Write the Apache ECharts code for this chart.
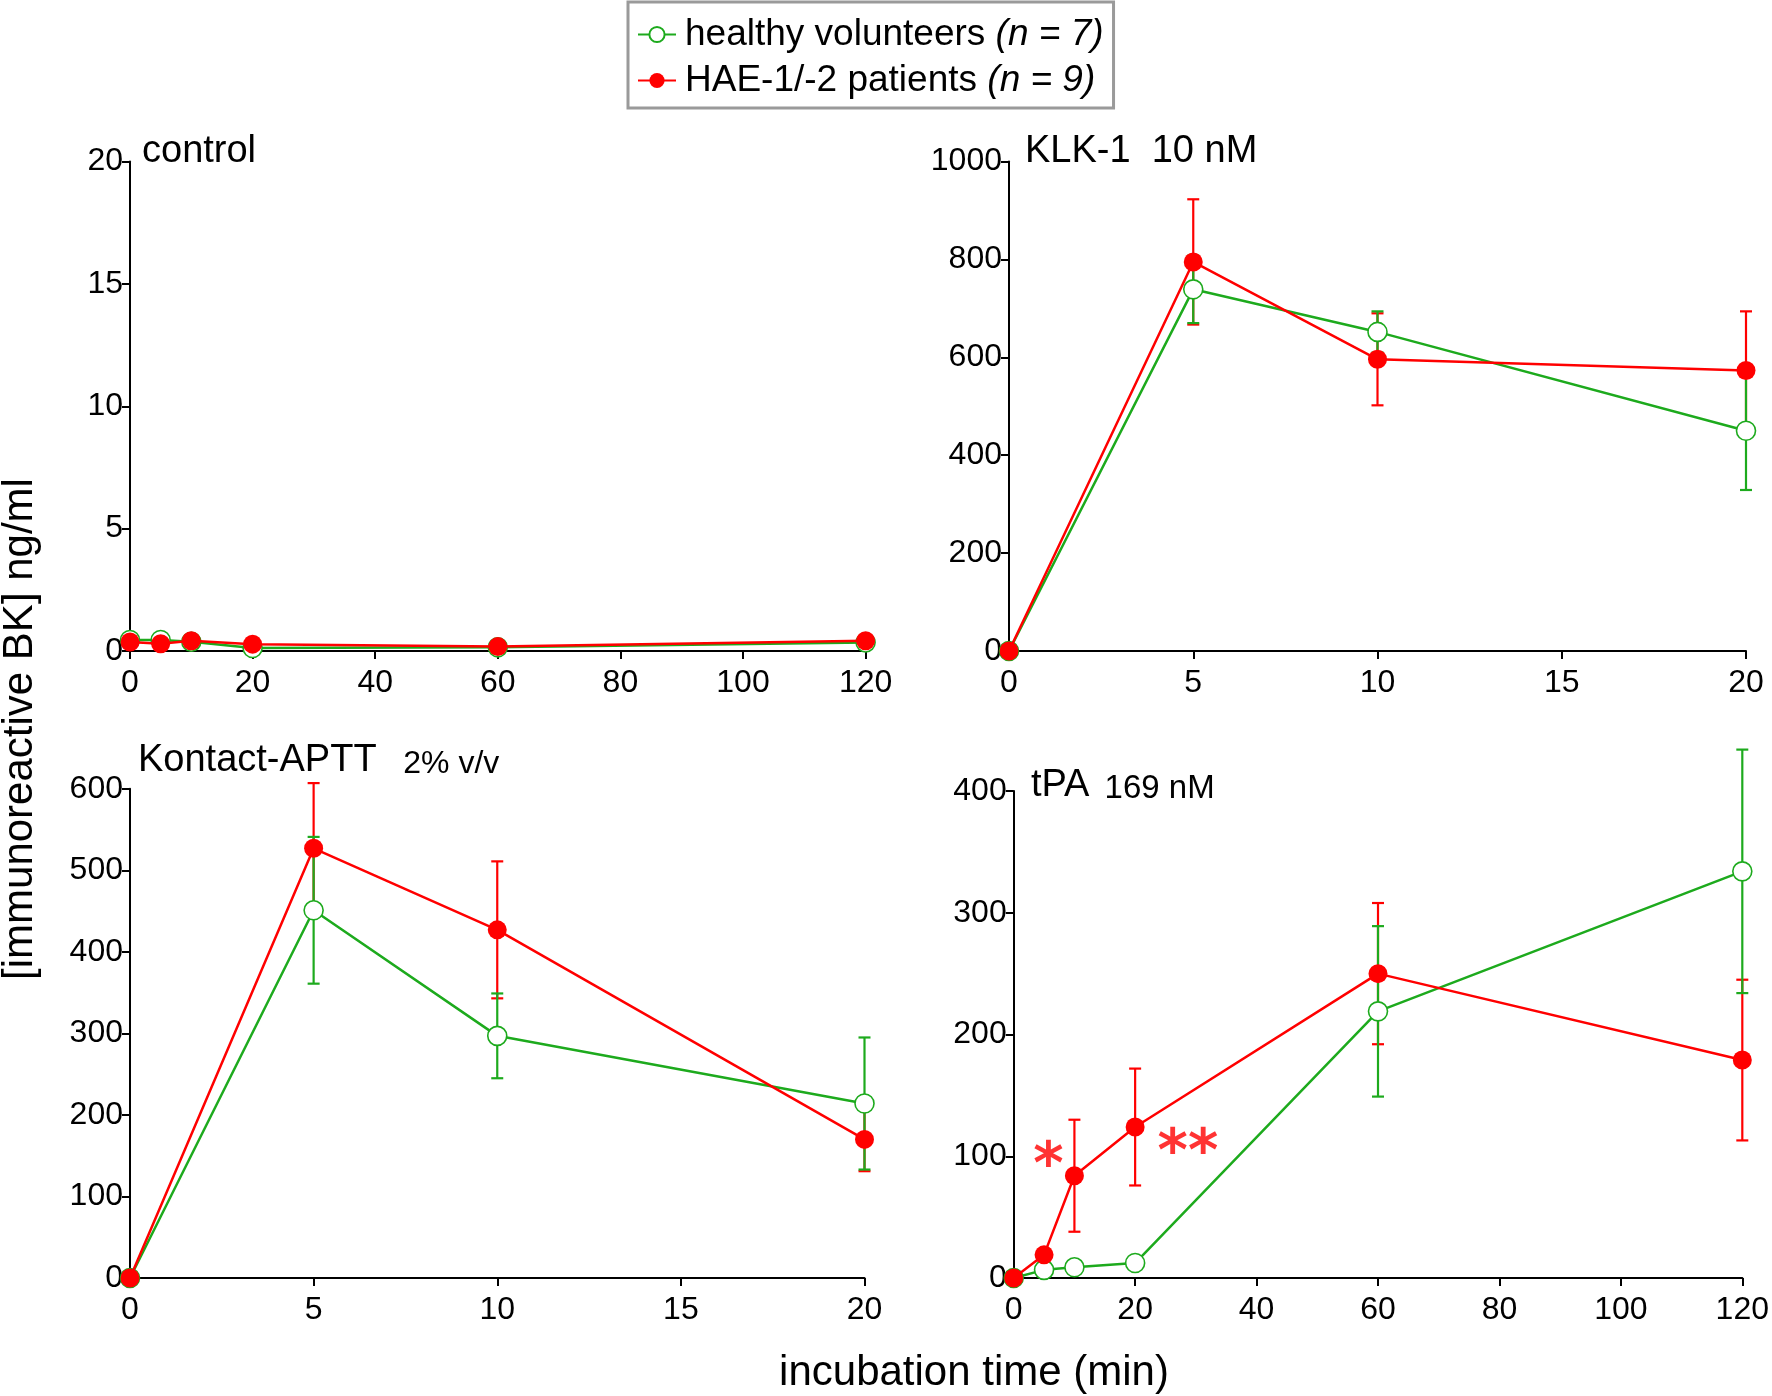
<!DOCTYPE html>
<html>
<head>
<meta charset="utf-8">
<script src="https://cdn.jsdelivr.net/npm/echarts@6/dist/echarts.min.js"></script>
<style>
html,body{margin:0;padding:0;background:#fff;}
#chart{width:1772px;height:1396px;}
</style>
</head>
<body>
<div id="chart"></div>
<script>
// ---------- data ----------
const seriesNames = ['healthy volunteers', 'HAE-1/-2 patients'];
const legendN = ['(n = 7)', '(n = 9)'];
const panelTitles = ['control', 'KLK-1  10 nM', 'Kontact-APTT', 'tPA'];
const panelSubtitles = ['', '', '2% v/v', '169 nM'];
const xAxisTitle = 'incubation time (min)';
const yAxisTitle = '[immunoreactive BK] ng/ml';

// control
const ctrlX = [0, 5, 10, 20, 60, 120];
const ctrlHealthy = [0.45, 0.45, 0.38, 0.12, 0.15, 0.35];
const ctrlHAE = [0.37, 0.30, 0.42, 0.28, 0.18, 0.42];

// KLK-1
const klkX = [0, 5, 10, 20];
const klkHealthy = [0, 739, 652, 450];
const klkHealthyErr = [0, 69, 42, 121];
const klkHAE = [0, 795, 596, 573];
const klkHAEErr = [0, 128, 94, 121];

// Kontact-APTT
const aptX = [0, 5, 10, 20];
const aptHealthy = [0, 451, 297, 214];
const aptHealthyErr = [0, 90, 52, 81];
const aptHAE = [0, 527, 427, 170];
const aptHAEErr = [0, 80, 84, 39];

// tPA
const tpaX = [0, 5, 10, 20, 60, 120];
const tpaHealthy = [0, 6.7, 8.8, 12.3, 219, 334];
const tpaHealthyErr = [0, 0, 0, 0, 70, 100];
const tpaHAE = [0, 19, 84, 124, 250, 179];
const tpaHAEErr = [0, 0, 46, 48, 58, 66];

// significance marks (tPA panel)
const sigMarks = [[5.7, 101, '*'], [26.2, 112, '*'], [31.2, 112, '*']];

// axis scales
const axisX = [{max: 120, interval: 20}, {max: 20, interval: 5}, {max: 20, interval: 5}, {max: 120, interval: 20}];
const axisY = [{max: 20, interval: 5}, {max: 1000, interval: 200}, {max: 600, interval: 100}, {max: 400, interval: 100}];

// ---------- styles ----------
const GREEN = '#1daa1d';
const RED = '#ff0000';
const FONT = '"Liberation Sans", Arial, sans-serif';

const grids = [
  {left: 130, top: 161.6, width: 735.6, height: 489.4},
  {left: 1009, top: 161.6, width: 737, height: 489.4},
  {left: 130, top: 788.8, width: 734.5, height: 489.2},
  {left: 1013.7, top: 791, width: 732.3, height: 487}
];

function axisCommon(isX) {
  return {
    type: 'value', min: 0,
    axisLine: {show: true, onZero: false, lineStyle: {color: '#000', width: 2}},
    axisTick: {show: true, inside: false, length: 8, lineStyle: {color: '#000', width: 2}},
    axisLabel: {color: '#000', fontSize: 32, fontFamily: FONT, margin: isX ? 16 : 7,
                formatter: v => String(v)},
    splitLine: {show: false}
  };
}

const xAxes = axisX.map((a, i) => Object.assign(axisCommon(true), {gridIndex: i, max: a.max, interval: a.interval}));
const yAxes = axisY.map((a, i) => Object.assign(axisCommon(false), {gridIndex: i, max: a.max, interval: a.interval}));

function pts(xs, ys) { return xs.map((x, i) => [x, ys[i]]); }
function errPts(xs, ys, es) {
  const out = [];
  xs.forEach((x, i) => { if (es[i] > 0) out.push([x, ys[i] - es[i], ys[i] + es[i]]); });
  return out;
}

function errSeries(gi, data, color, z) {
  return {
    type: 'custom', xAxisIndex: gi, yAxisIndex: gi, z: z, clip: false, silent: true,
    data: data,
    encode: {x: 0, y: [1, 2]},
    renderItem: function (params, api) {
      const x = api.value(0);
      const lo = api.coord([x, api.value(1)]);
      const hi = api.coord([x, api.value(2)]);
      const w = 6;
      const st = {stroke: color, lineWidth: 2.2};
      return {
        type: 'group',
        children: [
          {type: 'line', shape: {x1: lo[0], y1: lo[1], x2: hi[0], y2: hi[1]}, style: st},
          {type: 'line', shape: {x1: hi[0] - w, y1: hi[1], x2: hi[0] + w, y2: hi[1]}, style: st},
          {type: 'line', shape: {x1: lo[0] - w, y1: lo[1], x2: lo[0] + w, y2: lo[1]}, style: st}
        ]
      };
    }
  };
}

function healthyLine(gi, data) {
  return {
    name: seriesNames[0], type: 'line', xAxisIndex: gi, yAxisIndex: gi, z: 4,
    data: data, symbol: 'circle', symbolSize: 19, clip: false,
    lineStyle: {color: GREEN, width: 2.5},
    itemStyle: {color: '#ffffff', borderColor: GREEN, borderWidth: 1.6},
    emphasis: {disabled: true}, animation: false
  };
}
function haeLine(gi, data) {
  return {
    name: seriesNames[1], type: 'line', xAxisIndex: gi, yAxisIndex: gi, z: 5,
    data: data, symbol: 'circle', symbolSize: 19, clip: false,
    lineStyle: {color: RED, width: 2.5},
    itemStyle: {color: RED, borderColor: RED, borderWidth: 0},
    emphasis: {disabled: true}, animation: false
  };
}

const series = [
  // control
  healthyLine(0, pts(ctrlX, ctrlHealthy)),
  haeLine(0, pts(ctrlX, ctrlHAE)),
  // KLK-1
  errSeries(1, errPts(klkX, klkHAE, klkHAEErr), RED, 2),
  errSeries(1, errPts(klkX, klkHealthy, klkHealthyErr), GREEN, 3),
  healthyLine(1, pts(klkX, klkHealthy)),
  haeLine(1, pts(klkX, klkHAE)),
  // Kontact-APTT
  errSeries(2, errPts(aptX, aptHAE, aptHAEErr), RED, 2),
  errSeries(2, errPts(aptX, aptHealthy, aptHealthyErr), GREEN, 3),
  healthyLine(2, pts(aptX, aptHealthy)),
  haeLine(2, pts(aptX, aptHAE)),
  // tPA
  errSeries(3, errPts(tpaX, tpaHAE, tpaHAEErr), RED, 2),
  errSeries(3, errPts(tpaX, tpaHealthy, tpaHealthyErr), GREEN, 3),
  healthyLine(3, pts(tpaX, tpaHealthy)),
  haeLine(3, pts(tpaX, tpaHAE)),
  // significance asterisks
  {
    type: 'scatter', xAxisIndex: 3, yAxisIndex: 3, z: 6, silent: true,
    symbolSize: 1, itemStyle: {color: 'rgba(0,0,0,0)'},
    data: sigMarks.map(m => ({value: [m[0], m[1]], label: {formatter: m[2]}})),
    label: {show: true, position: 'inside', color: RED, fontSize: 58, fontWeight: 'bold',
            fontFamily: '"DejaVu Sans", sans-serif', offset: [0, 13]}
  }
];

const titleFont = 38;
const graphic = [
  {type: 'text', left: 142, top: 133, style: {text: panelTitles[0], font: `${titleFont}px ${FONT}`, fill: '#000'}},
  {type: 'text', left: 1025, top: 133, style: {text: panelTitles[1], font: `${titleFont}px ${FONT}`, fill: '#000'}},
  {type: 'text', left: 138, top: 742, style: {
      text: '{a|' + panelTitles[2] + '}{b|   ' + panelSubtitles[2] + '}',
      rich: {a: {fontSize: titleFont, fontFamily: FONT, fill: '#000', verticalAlign: 'bottom'},
             b: {fontSize: 32, fontFamily: FONT, fill: '#000', verticalAlign: 'bottom'}}}},
  {type: 'text', left: 1031, top: 767, style: {
      text: '{a|' + panelTitles[3] + '}{b| ' + panelSubtitles[3] + '}',
      rich: {a: {fontSize: titleFont, fontFamily: FONT, fill: '#000', verticalAlign: 'bottom'},
             b: {fontSize: 33, fontFamily: FONT, fill: '#000', verticalAlign: 'bottom', padding: [0, 0, 0, 6]}}}},
  {type: 'text', x: 974, y: 1373, style: {text: xAxisTitle, font: `42px ${FONT}`, fill: '#000', align: 'center', verticalAlign: 'middle'}},
  {type: 'text', x: 20, y: 729, rotation: Math.PI / 2, style: {text: yAxisTitle, font: `42px ${FONT}`, fill: '#000', align: 'center', verticalAlign: 'middle'}}
];

const option = {
  animation: false,
  backgroundColor: '#ffffff',
  grid: grids.map(g => Object.assign({containLabel: false}, g)),
  xAxis: xAxes,
  yAxis: yAxes,
  legend: {
    data: seriesNames,
    orient: 'vertical',
    left: 628, top: 2,
    padding: [14, 10, 9, 9],
    itemWidth: 38, itemHeight: 19, itemGap: 9,
    borderColor: '#9a9a9a', borderWidth: 3,
    selectedMode: false,
    formatter: function (name) {
      const i = seriesNames.indexOf(name);
      return '{r|' + name + ' }{i|' + legendN[i] + '}';
    },
    textStyle: {
      color: '#000', fontFamily: FONT, fontSize: 37, padding: [0, 0, 0, 4],
      rich: {
        r: {fontSize: 37, fontFamily: FONT, color: '#000'},
        i: {fontSize: 37, fontFamily: FONT, color: '#000', fontStyle: 'italic'}
      }
    }
  },
  graphic: graphic,
  series: series
};

const chart = echarts.init(document.getElementById('chart'), null, {renderer: 'canvas'});
chart.setOption(option);
</script>
</body>
</html>
